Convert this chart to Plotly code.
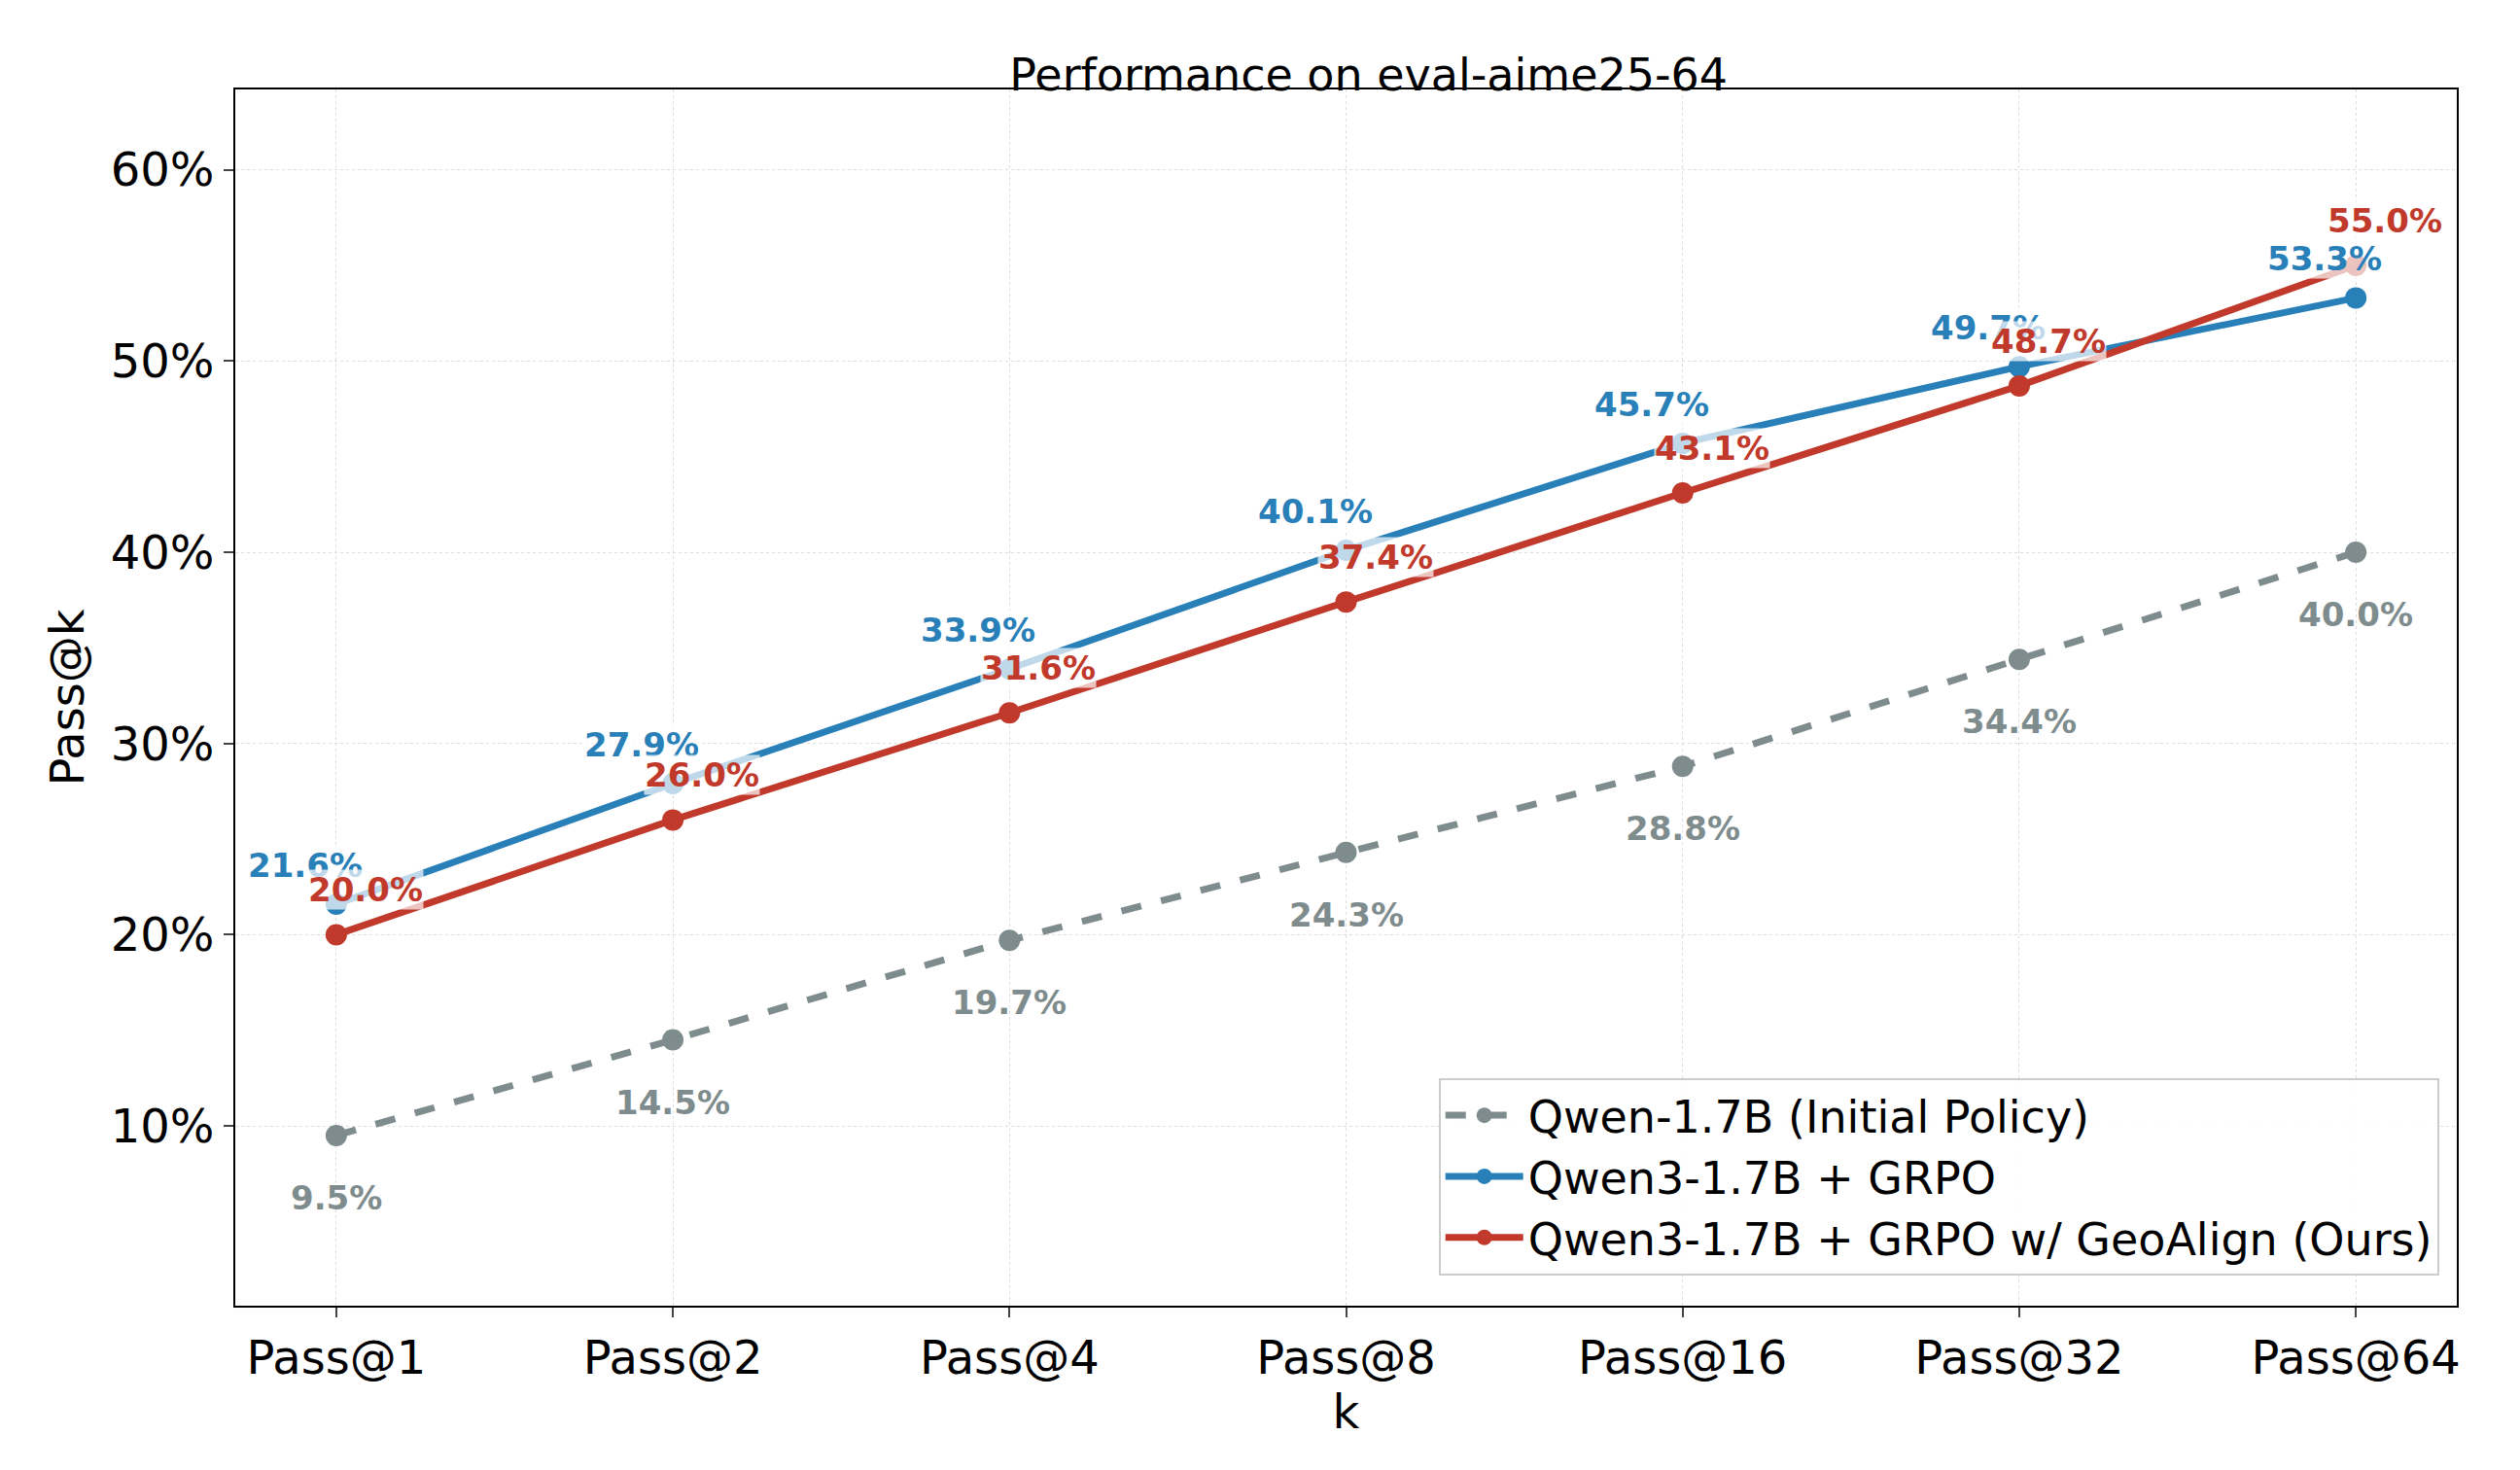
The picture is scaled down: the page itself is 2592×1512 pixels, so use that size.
import plotly.graph_objects as go

categories = ["Pass@1", "Pass@2", "Pass@4", "Pass@8", "Pass@16", "Pass@32", "Pass@64"]
base_vals = [9.5, 14.5, 19.7, 24.3, 28.8, 34.4, 40.0]
grpo_vals = [21.6, 27.9, 33.9, 40.1, 45.7, 49.7, 53.3]
geo_vals = [20.0, 26.0, 31.6, 37.4, 43.1, 48.7, 55.0]
names = ["Qwen-1.7B (Initial Policy)", "Qwen3-1.7B + GRPO", "Qwen3-1.7B + GRPO w/ GeoAlign (Ours)"]
colors = ["#7f8c8d", "#2980b9", "#c0392b"]

x = list(range(len(categories)))
fig = go.Figure()
for vals, name, col, dash in [(base_vals, names[0], colors[0], "dash"),
                               (grpo_vals, names[1], colors[1], "solid"),
                               (geo_vals, names[2], colors[2], "solid")]:
    fig.add_trace(go.Scatter(x=x, y=vals, name=name, mode="lines+markers",
                             line=dict(color=col, width=7, dash=dash),
                             marker=dict(color=col, size=22)))

lab = dict(size=34, family="DejaVu Sans", weight="bold")
ann = []
for i, v in enumerate(base_vals):
    ann.append(dict(x=i, y=v, text=f"{v:.1f}%", showarrow=False, yshift=-64,
                    font=dict(color=colors[0], **lab)))
for i, v in enumerate(grpo_vals):
    ann.append(dict(x=i, y=v, text=f"{v:.1f}%", showarrow=False, yshift=40, xshift=-32,
                    bgcolor="rgba(255,255,255,0.7)", borderpad=0,
                    font=dict(color=colors[1], **lab)))
for i, v in enumerate(geo_vals):
    ann.append(dict(x=i, y=v, text=f"{v:.1f}%", showarrow=False, yshift=46, xshift=30,
                    bgcolor="rgba(255,255,255,0.7)", borderpad=0,
                    font=dict(color=colors[2], **lab)))

fig.update_layout(
    width=2592, height=1512, plot_bgcolor="white", paper_bgcolor="white",
    font=dict(family="DejaVu Sans", color="black"),
    margin=dict(l=234, r=73, t=84, b=177),
    title=dict(text="Performance on eval-aime25-64", x=0.54, xanchor="center", y=0.965,
               font=dict(size=46)),
    annotations=ann,
    legend=dict(x=0.992, y=0.025, xanchor="right", yanchor="bottom",
                bordercolor="#cccccc", borderwidth=2, bgcolor="rgba(255,255,255,0.9)",
                font=dict(size=46), itemwidth=80),
)
fig.update_xaxes(range=[-0.3, 6.3], tickvals=x, ticktext=categories, tickfont=dict(size=48),
                 title=dict(text="k", font=dict(size=48), standoff=6),
                 showline=True, linecolor="black", linewidth=2, mirror=True,
                 ticks="outside", ticklen=10, tickwidth=2,
                 showgrid=True, gridcolor="#dddddd", griddash="dot", zeroline=False)
fig.update_yaxes(range=[0.6, 64.2], tickvals=[10, 20, 30, 40, 50, 60],
                 ticktext=["10%", "20%", "30%", "40%", "50%", "60%"], tickfont=dict(size=48),
                 title=dict(text="Pass@k", font=dict(size=48), standoff=12),
                 showline=True, linecolor="black", linewidth=2, mirror=True,
                 ticks="outside", ticklen=10, tickwidth=2,
                 showgrid=True, gridcolor="#dddddd", griddash="dot", zeroline=False)
fig.write_html("out.html")
